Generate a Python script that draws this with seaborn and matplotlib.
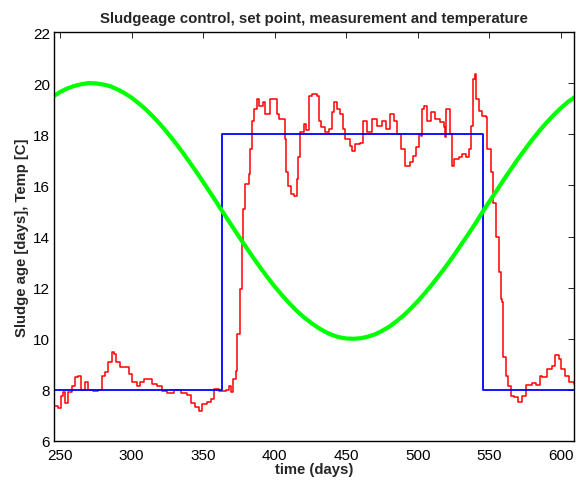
import matplotlib
matplotlib.use("Agg")
import matplotlib.pyplot as plt
import seaborn as sns
import pandas as pd

# ---- data ----
setpoint_days = [245.8, 363.2, 545.5, 609.3]
setpoint_vals = [8, 18, 8, 8]

temp_days = [245, 250, 255, 260, 265, 270, 275, 280, 285, 290, 295, 300, 305, 310,
             315, 320, 325, 330, 335, 340, 345, 350, 355, 360, 365, 370, 375, 380,
             385, 390, 395, 400, 405, 410, 415, 420, 425, 430, 435, 440, 445, 450,
             455, 460, 465, 470, 475, 480, 485, 490, 495, 500, 505, 510, 515, 520,
             525, 530, 535, 540, 545, 550, 555, 560, 565, 570, 575, 580, 585, 590,
             595, 600, 605, 610]
temp_vals = [19.47, 19.65, 19.79, 19.89, 19.96, 20.00, 19.99, 19.95, 19.88, 19.76,
             19.61, 19.43, 19.21, 18.97, 18.69, 18.39, 18.06, 17.71, 17.34, 16.95,
             16.55, 16.13, 15.71, 15.28, 14.85, 14.42, 14.00, 13.58, 13.17, 12.78,
             12.40, 12.04, 11.71, 11.40, 11.11, 10.86, 10.64, 10.44, 10.28, 10.15,
             10.06, 10.01, 10.00, 10.02, 10.08, 10.17, 10.31, 10.47, 10.68, 10.91,
             11.18, 11.47, 11.79, 12.13, 12.49, 12.86, 13.25, 13.66, 14.07, 14.49,
             14.94, 15.37, 15.79, 16.22, 16.63, 17.04, 17.42, 17.79, 18.14, 18.46,
             18.76, 19.03, 19.27, 19.47]

meas_days = [245.3, 248.8, 250.5, 252.3, 253.5, 255.8, 258.1, 260.5, 262.8, 264.0,
             264.5, 267.5, 269.8, 273.3, 276.8, 279.2, 281.4, 283.8, 286.1, 287.8,
             289.2, 292.0, 295.5, 297.9, 300.2, 303.7, 306.0, 308.4, 311.2, 314.3,
             317.8, 321.3, 324.8, 329.5, 334.2, 338.8, 341.2, 344.0, 347.1, 349.4,
             352.9, 355.7, 357.6, 361.1, 365.7, 368.1, 369.7, 371.1, 372.7, 373.9,
             375.8, 377.0, 378.1, 379.3, 382.3, 382.8, 384.0, 385.6, 387.5, 389.3,
             391.6, 393.3, 396.8, 399.1, 401.4, 403.3, 405.7, 407.3, 408.0, 409.6,
             411.3, 413.6, 415.5, 416.6, 417.8, 420.2, 422.0, 423.7, 426.0, 429.5,
             430.6, 432.3, 435.3, 437.7, 440.0, 441.7, 443.6, 445.4, 447.8, 449.4,
             452.4, 454.1, 456.4, 459.5, 461.8, 464.7, 468.2, 471.7, 475.2, 477.5,
             480.5, 483.3, 485.2, 488.0, 491.1, 494.6, 496.9, 498.8, 500.5, 502.1,
             502.8, 504.5, 506.3, 509.1, 512.2, 515.7, 518.1, 519.2, 519.9, 521.6,
             522.7, 523.9, 525.6, 528.6, 530.9, 533.3, 535.6, 537.3, 538.7, 539.8,
             540.8, 542.7, 545.0, 547.4, 548.5, 550.9, 552.5, 554.5, 556.5, 558.0,
             558.6, 559.3, 559.8, 561.6, 563.3, 564.9, 567.3, 570.3, 572.6, 575.7,
             579.6, 582.7, 585.0, 586.6, 589.0, 590.2, 593.7, 596.0, 598.4, 600.0,
             603.1, 605.5, 609.3]
meas_vals = [7.38, 7.30, 7.77, 7.90, 7.50, 7.90, 8.16, 8.49, 8.55, 8.55,
             8.00, 8.32, 8.00, 7.94, 8.00, 8.55, 8.68, 9.08, 9.47, 9.40,
             9.08, 8.88, 8.88, 8.62, 8.30, 8.17, 8.30, 8.42, 8.42, 8.23,
             8.17, 7.94, 7.87, 8.00, 7.89, 7.80, 7.48, 7.32, 7.19, 7.45,
             7.54, 7.65, 8.03, 7.94, 7.98, 8.16, 7.90, 8.42, 8.74, 10.20,
             11.95, 13.80, 15.08, 16.05, 16.45, 17.42, 18.53, 18.99, 19.38, 19.12,
             19.25, 18.79, 19.38, 19.38, 18.79, 18.60, 18.60, 17.81, 16.51, 15.99,
             15.66, 15.60, 16.25, 17.10, 18.08, 18.40, 18.15, 19.51, 19.57, 19.51,
             18.53, 18.27, 18.08, 18.20, 18.86, 19.25, 19.00, 18.79, 18.20, 17.81,
             17.55, 17.36, 17.60, 17.67, 18.53, 18.08, 18.60, 18.34, 18.53, 18.20,
             18.79, 18.53, 18.01, 17.42, 16.77, 16.90, 17.16, 17.49, 18.01, 17.95,
             18.99, 19.12, 18.53, 18.86, 18.60, 18.47, 18.27, 17.88, 18.99, 18.99,
             18.01, 16.77, 17.03, 17.10, 17.23, 17.10, 17.42, 18.34, 20.16, 20.36,
             19.38, 18.92, 18.73, 18.66, 17.42, 16.51, 15.30, 14.00, 12.60, 11.55,
             11.42, 10.51, 9.27, 8.55, 8.16, 7.77, 7.71, 7.51, 7.77, 8.19,
             8.26, 8.19, 8.55, 8.49, 8.49, 8.82, 8.94, 9.36, 9.20, 8.82,
             8.55, 8.30, 8.23]

x_ticks = [250, 300, 350, 400, 450, 500, 550, 600]
y_ticks = [6, 8, 10, 12, 14, 16, 18, 20, 22]

# ---- plotting ----
sns.set_style("white")
plt.rcParams['font.family'] = ['Liberation Sans', 'DejaVu Sans']

fig = plt.figure(figsize=(5.76, 4.85), dpi=100)
ax = fig.add_axes([54/576, 43/485, (574.3-54)/576, (442-33)/485])

df_meas = pd.DataFrame({"day": meas_days, "val": meas_vals})
df_sp = pd.DataFrame({"day": setpoint_days, "val": setpoint_vals})
df_temp = pd.DataFrame({"day": temp_days, "val": temp_vals})

sns.lineplot(data=df_meas, x="day", y="val", ax=ax, color=(1, 0, 0), lw=1.1,
             drawstyle="steps-post", estimator=None)
sns.lineplot(data=df_sp, x="day", y="val", ax=ax, color=(0, 0, 1), lw=1.3,
             drawstyle="steps-post", estimator=None)
sns.lineplot(data=df_temp, x="day", y="val", ax=ax, color=(0, 1, 0), lw=3.0,
             estimator=None)

ax.set_xlim(245.8, 609.3)
ax.set_ylim(6, 22)
ax.set_xticks(x_ticks)
ax.set_yticks(y_ticks)
ax.tick_params(direction="in", length=4, width=0.6, top=True, right=True,
               labelsize=11.0, colors="black")
ax.tick_params(axis="x", pad=5)
ax.tick_params(axis="y", pad=3)
for s in ax.spines.values():
    s.set_visible(True)
    s.set_color("black")
    s.set_linewidth(1.0)

ax.set_title("Sludgeage control, set point, measurement and temperature",
             fontsize=10.8, fontweight="bold", pad=7)
ax.set_xlabel("time (days)", fontsize=10.7, fontweight="bold", labelpad=0)
ax.set_ylabel("Sludge age [days], Temp [C]", fontsize=10.7, fontweight="bold",
              labelpad=3)

fig.savefig("out.png", dpi=100)
